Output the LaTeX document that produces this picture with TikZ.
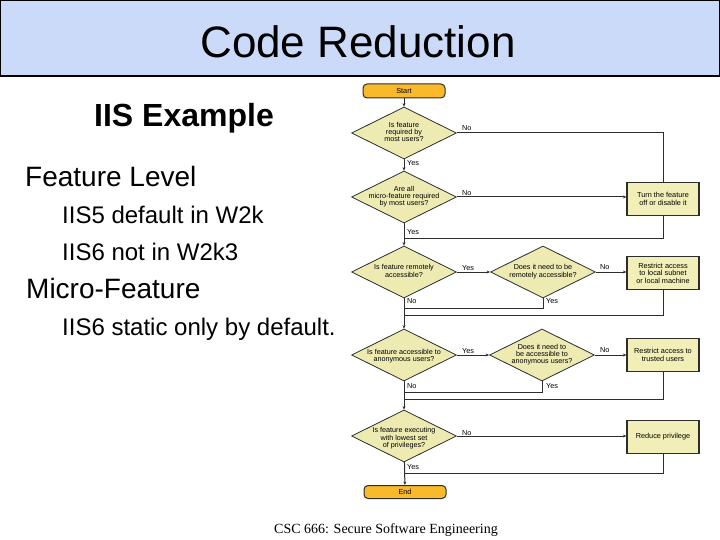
\documentclass[tikz,border=0pt]{standalone}
\usepackage{fontspec}
\setmainfont{Liberation Sans}
\newfontfamily\serifft{Liberation Serif}
\newfontfamily\chartft{Liberation Sans}
\usetikzlibrary{shapes.geometric,arrows.meta}
\definecolor{titlebg}{RGB}{204,218,250}
\definecolor{diafill}{RGB}{237,235,178}
\definecolor{boxfill}{RGB}{241,239,183}
\definecolor{termfill}{RGB}{248,186,42}
\definecolor{linec}{RGB}{45,45,45}
\newcommand{\dtxt}[2][0pt]{\raisebox{\dimexpr-1.8pt-#1\relax}[0pt][0pt]{\makebox[0pt][c]{\begin{tabular}{@{}c@{}}#2\end{tabular}}}}
\begin{document}
\begin{tikzpicture}[x=1pt,y=-1pt,
  dec/.style={diamond,draw=linec,fill=diafill,line width=0.8pt,minimum width=105pt,minimum height=52pt,inner sep=0pt,aspect=2,font=\chartft\fontsize{7.2}{7.1}\selectfont},
  act/.style={rectangle,draw=linec,fill=boxfill,line width=1.3pt,minimum width=72pt,minimum height=33pt,inner sep=1pt,align=center,font=\chartft\fontsize{7.3}{7.6}\selectfont},
  term/.style={rectangle,rounded corners=4pt,draw=linec,fill=termfill,line width=1pt,minimum width=82pt,minimum height=14pt,inner sep=0pt,font=\chartft\fontsize{7.3}{7.3}\selectfont},
  conn/.style={draw=linec,line width=1pt},
  arr/.style={conn,-{Stealth[length=3.5pt,width=3pt]}},
  lbl/.style={font=\chartft\fontsize{7.3}{7}\selectfont,inner sep=0pt,anchor=west},
  bigtxt/.style={inner sep=0pt,anchor=base west}
]
\useasboundingbox (0,0) rectangle (720,540);
\fill[white] (0,0) rectangle (720,540);
% title bar
\fill[titlebg] (0,0) rectangle (720,76);
\draw[black,line width=1.3pt] (0.7,0.7) rectangle (719.3,76);
\node[inner sep=0pt,font=\fontsize{44}{48}\selectfont] (title) at (358,42) {Code Reduction};
% left text
\node[bigtxt,font=\bfseries\fontsize{32}{36}\selectfont] (t1) at (94,127) {IIS Example};
\node[bigtxt,font=\fontsize{28}{32}\selectfont] (t2) at (25,187) {Feature Level};
\node[bigtxt,font=\fontsize{24}{28}\selectfont] (t3) at (62,224) {IIS5 default in W2k};
\node[bigtxt,font=\fontsize{24}{28}\selectfont] (t4) at (62,260) {IIS6 not in W2k3};
\node[bigtxt,font=\fontsize{28}{32}\selectfont] (t5) at (26,298) {Micro-Feature};
\node[bigtxt,font=\fontsize{24}{28}\selectfont] (t6) at (62,335) {IIS6 static only by default.};
\node[inner sep=0pt,anchor=base,font=\serifft\fontsize{14}{16}\selectfont] (foot) at (386,533) {CSC 666: Secure Software Engineering};
% flowchart nodes
\node[term] (start) at (404,91) {Start};
\node[dec] (q1) at (404,133) {\dtxt{Is feature\\required by\\most users?}};
\node[dec] (q2) at (404,197) {\dtxt{Are all\\micro-feature required\\by most users?}};
\node[dec] (q3) at (404,272) {\dtxt{Is feature remotely\\accessible?}};
\node[dec] (q3b) at (543,272) {\dtxt{Does it need to be\\remotely accessible?}};
\node[dec] (q4) at (404,355) {\dtxt[1.5pt]{Is feature accessible to\\anonymous users?}};
\node[dec] (q4b) at (542,355) {\dtxt{Does it need to\\be accessible to\\anonymous users?}};
\node[dec] (q5) at (404,436) {\dtxt[2.5pt]{Is feature executing\\with lowest set\\of privileges?}};
\node[term,minimum height=13pt] (end) at (405,492) {End};
\node[act] (b1) at (663,199) {Turn the feature\\off or disable it};
\node[act] (b2) at (663,273) {Restrict access\\to local subnet\\or local machine};
\node[act] (b3) at (663,355) {Restrict access to\\trusted users};
\node[act] (b4) at (663,437) {Reduce privilege};
% junction coordinates
\coordinate (c1) at (663,133);
\coordinate (j1) at (404,238);
\coordinate (j2) at (404,308);
\coordinate (j3) at (404,315);
\coordinate (j4) at (404,392);
\coordinate (j5) at (404,399);
\coordinate (j6) at (404,473);
% connectors
\draw[arr] (start) -- (q1);
\draw[arr] (q1) -- (q2);
\draw[conn] (q1.east) -- (c1) -- (b1.north);
\draw[arr] (q2.east) -- (q2.east -| b1.west);
\draw[conn] (b1.south) |- (j1);
\draw[arr] (q2) -- (q3);
\draw[arr] (q3.east) -- (q3b.west);
\draw[arr] (q3b.east) -- (q3b.east -| b2.west);
\draw[conn] (q3b.south) |- (j2);
\draw[conn] (b2.south) |- (j3);
\draw[arr] (q3) -- (q4);
\draw[arr] (q4.east) -- (q4b.west);
\draw[arr] (q4b.east) -- (q4b.east -| b3.west);
\draw[conn] (q4b.south) |- (j4);
\draw[conn] (b3.south) |- (j5);
\draw[arr] (q4) -- (q5);
\draw[arr] (q5.east) -- (q5.east -| b4.west);
\draw[conn] (b4.south) |- (j6);
\draw[arr] (q5) -- (end);
% labels
\node[lbl] (l1) at (462,128) {No};
\node[lbl] (l2) at (407,163) {Yes};
\node[lbl] (l3) at (462,193) {No};
\node[lbl] (l4) at (407,232) {Yes};
\node[lbl] (l5) at (462,268) {Yes};
\node[lbl] (l6) at (600,267) {No};
\node[lbl] (l7) at (407,301) {No};
\node[lbl] (l8) at (546,301) {Yes};
\node[lbl] (l9) at (462,351) {Yes};
\node[lbl] (l10) at (600,350) {No};
\node[lbl] (l11) at (407,386) {No};
\node[lbl] (l12) at (546,386) {Yes};
\node[lbl] (l13) at (462,433) {No};
\node[lbl] (l14) at (407,467) {Yes};
\end{tikzpicture}
\end{document}
